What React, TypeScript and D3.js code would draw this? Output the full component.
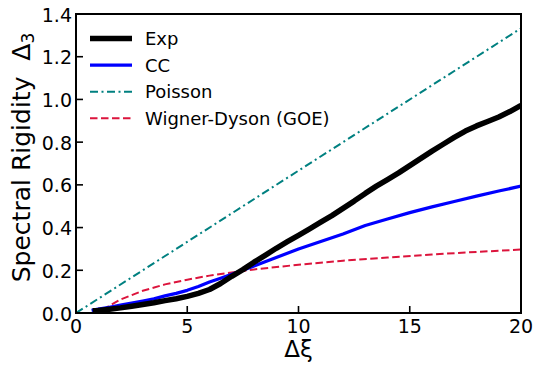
import React from "react";
import * as d3 from "d3";

// Δξ sample positions and spectral rigidity values for each curve
const expX = [0.75, 1, 1.5, 2, 2.5, 3, 3.5, 4, 4.5, 5, 5.5, 6, 6.5, 7, 7.5, 8, 8.5, 9, 9.5, 10, 10.5, 11, 11.5, 12, 12.5, 13, 13.5, 14, 14.5, 15, 15.5, 16, 16.5, 17, 17.5, 18, 18.5, 19, 19.5, 20];
const expY = [0.01, 0.012, 0.018, 0.024, 0.032, 0.04, 0.048, 0.058, 0.067, 0.078, 0.092, 0.11, 0.138, 0.172, 0.203, 0.238, 0.27, 0.303, 0.334, 0.364, 0.394, 0.425, 0.456, 0.49, 0.524, 0.56, 0.594, 0.625, 0.656, 0.69, 0.724, 0.758, 0.79, 0.822, 0.852, 0.876, 0.897, 0.918, 0.943, 0.972];

const ccX = [0.7, 1, 1.5, 2, 2.5, 3, 3.5, 4, 4.5, 5, 5.5, 6, 6.5, 7, 7.5, 8, 8.5, 9, 9.5, 10, 11, 12, 13, 14, 15, 16, 17, 18, 19, 20];
const ccY = [0.012, 0.018, 0.027, 0.037, 0.046, 0.056, 0.066, 0.08, 0.092, 0.106, 0.124, 0.145, 0.163, 0.182, 0.2, 0.22, 0.24, 0.26, 0.28, 0.3, 0.335, 0.37, 0.41, 0.44, 0.47, 0.497, 0.522, 0.547, 0.571, 0.594];

const poissonX = [0, 20];
const poissonY = [0, 1.333];

const goeX = [1.2, 1.5, 2, 3, 4, 5, 6, 7, 8, 10, 12, 14, 16, 18, 20];
const goeY = [0.012, 0.034, 0.063, 0.104, 0.134, 0.156, 0.175, 0.19, 0.204, 0.226, 0.245, 0.26, 0.274, 0.286, 0.297];

const xTicks = [0, 5, 10, 15, 20];
const yTicks = [0, 0.2, 0.4, 0.6, 0.8, 1.0, 1.2, 1.4];

const seriesNames = ["Exp", "CC", "Poisson", "Wigner-Dyson (GOE)"];

const W = 535;
const H = 367;
const margin = { left: 76, right: 14, top: 14, bottom: 54 };
const FONT = "'DejaVu Sans', sans-serif";

export default function App() {
  const x = d3.scaleLinear().domain([0, 20]).range([margin.left, W - margin.right]);
  const y = d3.scaleLinear().domain([0, 1.4]).range([H - margin.bottom, margin.top]);

  const line = (xs: number[], ys: number[]) =>
    d3
      .line<number>()
      .x((_, i) => x(xs[i]))
      .y((d) => y(d))
      .curve(d3.curveLinear)(ys) || "";

  const styles = [
    { stroke: "#000000", width: 5.5, dash: "none" },
    { stroke: "#0000ff", width: 3.2, dash: "none" },
    { stroke: "#008080", width: 2, dash: "8,3.5,2,3.5" },
    { stroke: "#dc143c", width: 2, dash: "7.5,3.5" },
  ];
  const paths = [
    line(expX, expY),
    line(ccX, ccY),
    line(poissonX, poissonY),
    line(goeX, goeY),
  ];
  const drawOrder = [2, 3, 1, 0];

  const x0 = x(0), x1 = x(20), y0 = y(0), y1 = y(1.4);

  return (
    <svg width={W} height={H} style={{ position: "absolute", left: 0, top: 0, background: "#fff" }} fontFamily={FONT}>
      <defs>
        <clipPath id="plotArea">
          <rect x={x0} y={y1} width={x1 - x0} height={y0 - y1} />
        </clipPath>
      </defs>
      <g clipPath="url(#plotArea)">
        {drawOrder.map((k) => (
          <path
            key={k}
            d={paths[k]}
            fill="none"
            stroke={styles[k].stroke}
            strokeWidth={styles[k].width}
            strokeDasharray={styles[k].dash}
            strokeLinejoin="round"
          />
        ))}
      </g>

      {/* ticks pointing inward */}
      {xTicks.map((t) => (
        <g key={"x" + t}>
          <line x1={x(t)} x2={x(t)} y1={y0} y2={y0 - 7} stroke="#000" strokeWidth={1.6} />
          <text x={x(t)} y={333} fontSize={19} textAnchor="middle">{t}</text>
        </g>
      ))}
      {yTicks.map((t) => (
        <g key={"y" + t}>
          <line x1={x0} x2={x0 + 7} y1={y(t)} y2={y(t)} stroke="#000" strokeWidth={1.6} />
          <text x={72} y={y(t) + 7.5} fontSize={19} textAnchor="end">{t.toFixed(1)}</text>
        </g>
      ))}

      <rect x={x0} y={y1} width={x1 - x0} height={y0 - y1} fill="none" stroke="#000" strokeWidth={2} />

      {/* axis titles */}
      <text x={(x0 + x1) / 2} y={357} fontSize={23} textAnchor="middle">Δξ</text>
      <text transform={`translate(30, ${(y0 + y1) / 2 - 6}) rotate(-90)`} fontSize={25} textAnchor="middle">
        Spectral Rigidity{"\u00a0\u00a0"}Δ<tspan fontSize={17} dy={4}>3</tspan>
      </text>

      {/* legend */}
      {seriesNames.map((name, i) => {
        const ly = 38.5 + i * 26.6;
        return (
          <g key={name}>
            <line x1={90} x2={132} y1={ly} y2={ly} stroke={styles[i].stroke} strokeWidth={styles[i].width} strokeDasharray={styles[i].dash} />
            <text x={145} y={ly + 6.5} fontSize={18}>{name}</text>
          </g>
        );
      })}
    </svg>
  );
}
